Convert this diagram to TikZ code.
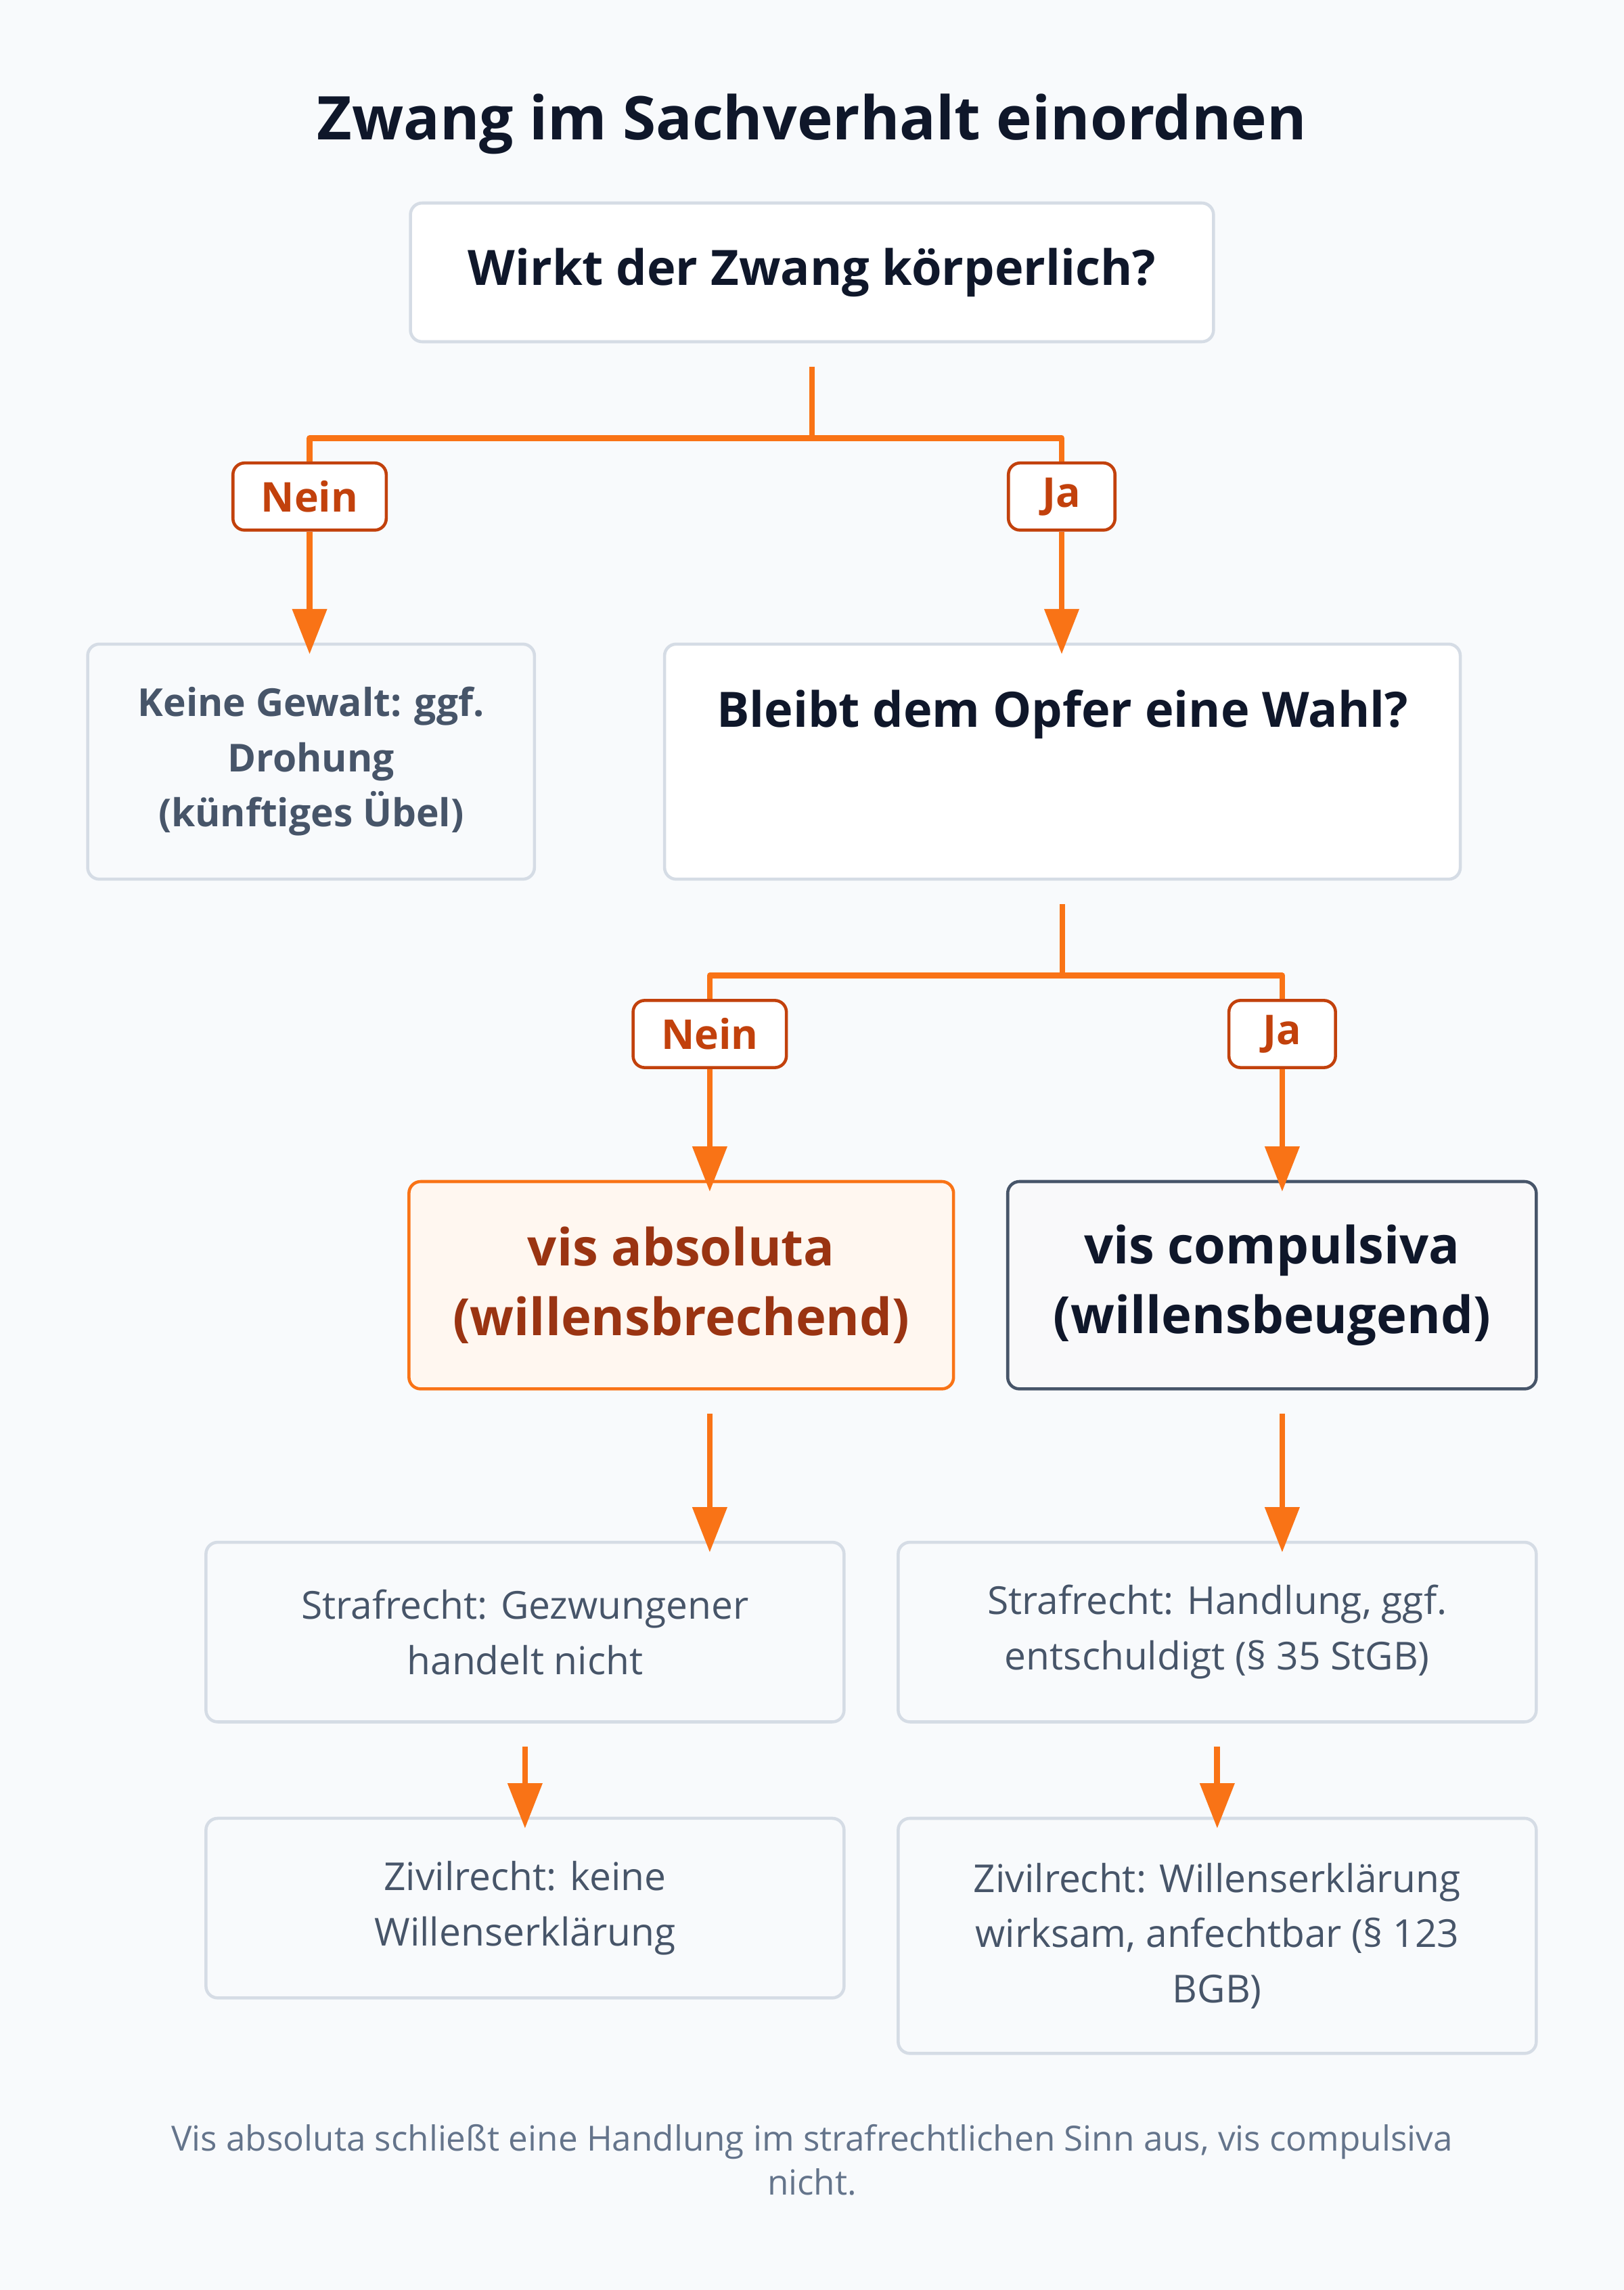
\documentclass[tikz,border=0pt]{standalone}
\usepackage{fontspec}
\setmainfont{Open Sans}
\usetikzlibrary{arrows.meta,positioning,calc}
\definecolor{bgc}{HTML}{F8FAFC}
\definecolor{edge}{HTML}{D5DCE5}
\definecolor{orng}{HTML}{F97316}
\definecolor{dorng}{HTML}{C2410C}
\definecolor{brown}{HTML}{9A3412}
\definecolor{ink}{HTML}{0F172A}
\definecolor{slate}{HTML}{475569}
\definecolor{mute}{HTML}{64748B}
\tikzset{
  box/.style={draw=edge, line width=1.2pt, rounded corners=0.16cm, inner sep=0pt},
  ask/.style={box, fill=white, text=ink, font=\fontsize{19}{24}\selectfont\bfseries},
  info/.style={box, fill=bgc, text=slate, align=center, font=\fontsize{15}{21.5}\selectfont},
  tag/.style={draw=dorng, line width=1.2pt, fill=white, rounded corners=0.16cm, text=dorng,
              font=\fontsize{16}{18}\selectfont\bfseries, minimum height=0.92cm, inner sep=0pt},
  conn/.style={orng, line width=2.3pt},
  arr/.style={conn, -{Triangle[length=0.62cm,width=0.46cm]}},
}
\begin{document}
\begin{tikzpicture}[x=0.02cm, y=-0.02cm, line join=round]
\fill[bgc] (0,0) rectangle (1112,1568);
\useasboundingbox (0,0) rectangle (1112,1568);
\node[font=\fontsize{23.5}{28}\selectfont\bfseries, text=ink] (title) at (556,85) {Zwang im Sachverhalt einordnen};
% Ebene 1
\node[ask, minimum width=11cm, minimum height=1.9cm] (q1) at (556,186.5) {Wirkt der Zwang körperlich?};
\node[tag, minimum width=2.1cm] (n1) at (212,340) {Nein};
\node[tag, minimum width=1.46cm] (j1) at (727,340) {Ja};
\node[info, font=\fontsize{15}{21.5}\selectfont\bfseries, minimum width=6.12cm, minimum height=3.22cm] (kg) at (213,521.5) {Keine Gewalt: ggf.\\Drohung\\(künftiges Übel)};
\node[box, fill=white, minimum width=10.9cm, minimum height=3.22cm] (q2) at (727.5,521.5) {};
\node[text=ink, font=\fontsize{19}{24}\selectfont\bfseries, anchor=center] (q2t) at (727.5,489) {Bleibt dem Opfer eine Wahl?};
\coordinate (s1) at ($(q1.south)+(0,65)$);
\draw[conn] ($(q1.south)+(0,16)$) -- (s1);
\draw[conn] (s1) -| (n1.north);
\draw[conn] (s1) -| (j1.north);
\draw[arr] (n1.south) -- ($(n1 |- kg.north)+(0,8)$);
\draw[arr] (j1.south) -- ($(j1 |- q2.north)+(0,8)$);
% Ebene 2
\node[tag, minimum width=2.1cm] (n2) at (486,708) {Nein};
\node[tag, minimum width=1.46cm] (j2) at (878,708) {Ja};
\node[box, draw=orng, fill=orange!6, text=brown, align=center, font=\fontsize{20}{27}\selectfont\bfseries,
      minimum width=7.46cm, minimum height=2.84cm] (va) at (466.5,880) {vis absoluta\\(willensbrechend)};
\node[box, draw=slate, fill=bgc!60!slate!8, text=ink, align=center, font=\fontsize{20}{27}\selectfont\bfseries,
      minimum width=7.24cm, minimum height=2.84cm] (vc) at (871,880) {vis compulsiva\\(willensbeugend)};
\coordinate (s2) at ($(q2.south)+(0,65)$);
\draw[conn] ($(q2.south)+(0,16)$) -- (s2);
\draw[conn] (s2) -| (n2.north);
\draw[conn] (s2) -| (j2.north);
\draw[arr] (n2.south) -- ($(n2 |- va.north)+(0,8)$);
\draw[arr] (j2.south) -- ($(j2 |- vc.north)+(0,8)$);
% Folgen
\node[info, minimum width=8.74cm, minimum height=2.46cm] (sa) at (359.5,1117.5) {Strafrecht: Gezwungener\\handelt nicht};
\node[info, minimum width=8.74cm, minimum height=2.46cm] (sc) at (833.5,1117.5) {Strafrecht: Handlung, ggf.\\entschuldigt (§ 35 StGB)};
\node[info, minimum width=8.74cm, minimum height=2.46cm] (za) at (359.5,1306.5) {Zivilrecht: keine\\Willenserklärung};
\node[info, minimum width=8.74cm, minimum height=3.22cm] (zc) at (833.5,1325.5) {Zivilrecht: Willenserklärung\\wirksam, anfechtbar (§ 123\\BGB)};
\draw[arr] ($(n2 |- va.south)+(0,16)$) -- ($(n2 |- sa.north)+(0,8)$);
\draw[arr] ($(j2 |- vc.south)+(0,16)$) -- ($(j2 |- sc.north)+(0,8)$);
\draw[arr] ($(sa.south)+(0,16)$) -- ($(za.north)+(0,8)$);
\draw[arr] ($(sc.south)+(0,16)$) -- ($(zc.north)+(0,8)$);
\node[text=mute, align=center, font=\fontsize{13.5}{17}\selectfont] (foot) at (556,1479) {Vis absoluta schließt eine Handlung im strafrechtlichen Sinn aus, vis compulsiva\\nicht.};
\end{tikzpicture}
\end{document}
